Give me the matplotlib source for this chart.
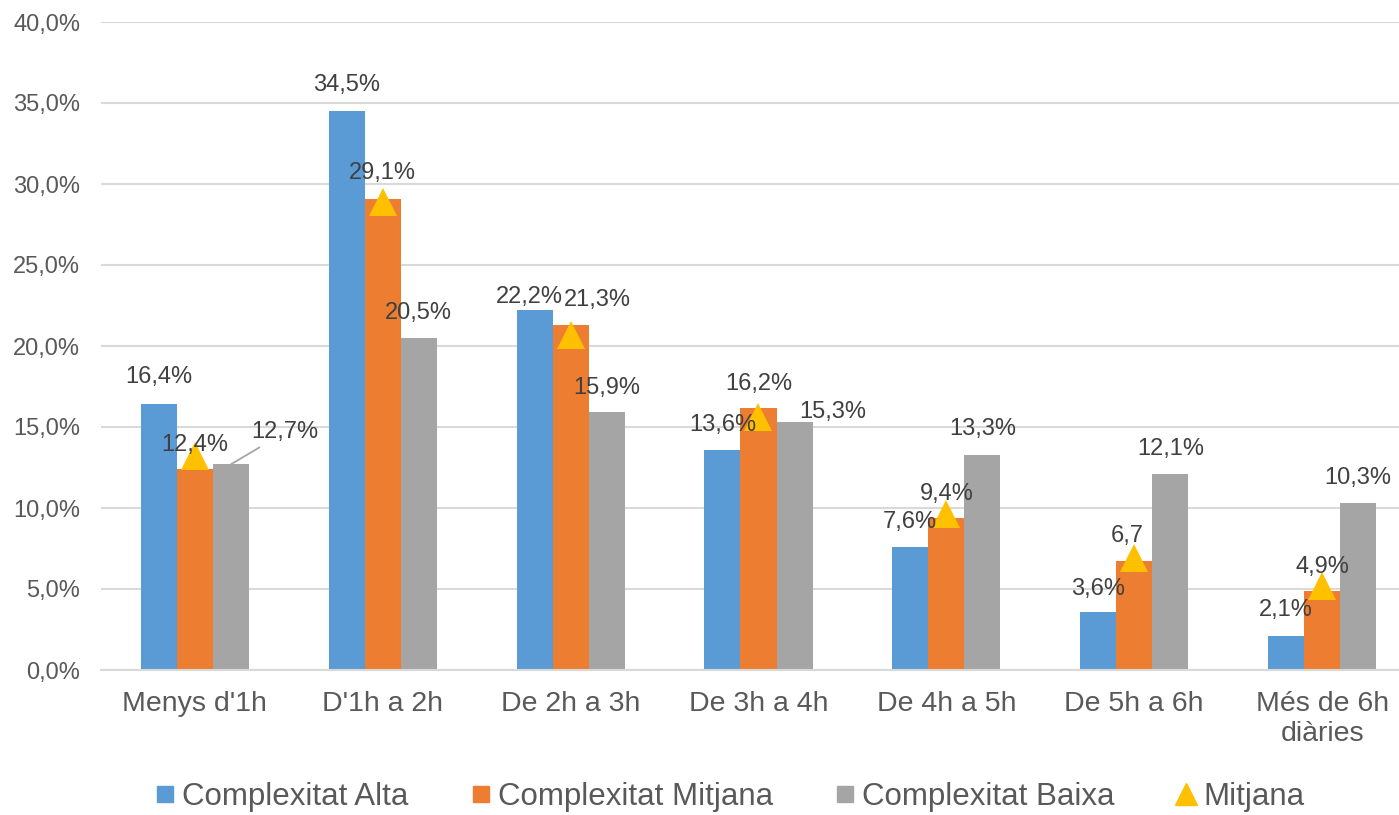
import matplotlib.pyplot as plt
from matplotlib.lines import Line2D
import numpy as np

plt.rcParams['font.family'] = ['Liberation Sans', 'DejaVu Sans']

# Dades
categories = ["Menys d'1h", "D'1h a 2h", "De 2h a 3h", "De 3h a 4h",
              "De 4h a 5h", "De 5h a 6h", "Més de 6h\ndiàries"]
alta = [16.4, 34.5, 22.2, 13.6, 7.6, 3.6, 2.1]
mitjana_cx = [12.4, 29.1, 21.3, 16.2, 9.4, 6.7, 4.9]
baixa = [12.7, 20.5, 15.9, 15.3, 13.3, 12.1, 10.3]
mitjana = [13.2, 28.9, 20.7, 15.6, 9.6, 6.9, 5.2]
etiquetes_mitjana_cx = ["12,4%", "29,1%", "21,3%", "16,2%", "9,4%", "6,7", "4,9%"]

# colors
C_ALTA = '#5B9BD5'
C_MITJ = '#ED7D31'
C_BAIXA = '#A5A5A5'
C_TRI = '#FFC000'
C_TEXT = '#404040'

# desplaçaments de les etiquetes (pixels)
off_alta = [(0, 27), (0, 26), (-5, 13), (0, 25), (0, 25), (0, 23), (0, 26)]
off_mitj = [(0, 24), (0, 26), (27, 25), (0, 24), (0, 24), (-7, 25), (0, 24)]
off_baixa = [(54, 32), (0, 25), (0, 24), (38, 10), (0, 26), (0, 25), (0, 25)]

fig = plt.figure(figsize=(13.99, 8.15), dpi=100)
ax = fig.add_axes([101 / 1399, 145 / 815, 1315 / 1399, 648 / 815])

x = np.arange(len(categories))
w = 0.192

ax.bar(x - w, alta, w, color=C_ALTA, zorder=2)
ax.bar(x, mitjana_cx, w, color=C_MITJ, zorder=2)
ax.bar(x + w, baixa, w, color=C_BAIXA, zorder=2)
ax.plot(x, mitjana, linestyle='none', marker='^', markersize=20,
        color=C_TRI, markeredgewidth=0, zorder=3)


def fmt(v):
    return f"{v:.1f}".replace('.', ',') + '%'


for i in range(len(categories)):
    ax.annotate(fmt(alta[i]), (x[i] - w, alta[i]), xytext=off_alta[i],
                textcoords='offset pixels', ha='center', va='center',
                fontsize=17, color=C_TEXT, zorder=4)
    ax.annotate(etiquetes_mitjana_cx[i], (x[i], mitjana_cx[i]), xytext=off_mitj[i],
                textcoords='offset pixels', ha='center', va='center',
                fontsize=17, color=C_TEXT, zorder=4)
    if i == 0:
        ax.annotate(fmt(baixa[i]), (x[i] + w, baixa[i]), xytext=off_baixa[i],
                    textcoords='offset pixels', ha='center', va='center',
                    fontsize=17, color=C_TEXT, zorder=4,
                    arrowprops=dict(arrowstyle='-', color='#A5A5A5', lw=1.3,
                                    shrinkA=2, shrinkB=0))
    else:
        ax.annotate(fmt(baixa[i]), (x[i] + w, baixa[i]), xytext=off_baixa[i],
                    textcoords='offset pixels', ha='center', va='center',
                    fontsize=17, color=C_TEXT, zorder=4)

ax.set_xlim(-0.5, len(categories) - 0.5)
ax.set_ylim(0, 40)
ax.set_yticks(np.arange(0, 41, 5))
ax.set_yticklabels([fmt(v) for v in np.arange(0, 41, 5)])
ax.set_xticks(x)
ax.set_xticklabels(categories)
ax.tick_params(axis='y', length=0, pad=15, labelsize=17, labelcolor='#595959')
ax.tick_params(axis='x', length=0, pad=15, labelsize=20.5, labelcolor='#595959')

ax.grid(axis='y', color='#D9D9D9', linewidth=1.5, zorder=0)
for s in ['top', 'right', 'left']:
    ax.spines[s].set_visible(False)
ax.spines['bottom'].set_color('#D9D9D9')
ax.spines['bottom'].set_linewidth(1.5)

handles = [
    Line2D([], [], linestyle='none', marker='s', markersize=12, color=C_ALTA),
    Line2D([], [], linestyle='none', marker='s', markersize=12, color=C_MITJ),
    Line2D([], [], linestyle='none', marker='s', markersize=12, color=C_BAIXA),
    Line2D([], [], linestyle='none', marker='^', markersize=16, color=C_TRI),
]
labels = ['Complexitat Alta', 'Complexitat Mitjana', 'Complexitat Baixa', 'Mitjana']
leg = fig.legend(handles, labels, loc='center', bbox_to_anchor=(0.522, 18 / 815),
                 ncol=4, frameon=False, fontsize=22.5, handlelength=0.6,
                 handletextpad=0.25, columnspacing=2.0)
for t in leg.get_texts():
    t.set_color('#595959')

fig.savefig('out.png', dpi=100)
